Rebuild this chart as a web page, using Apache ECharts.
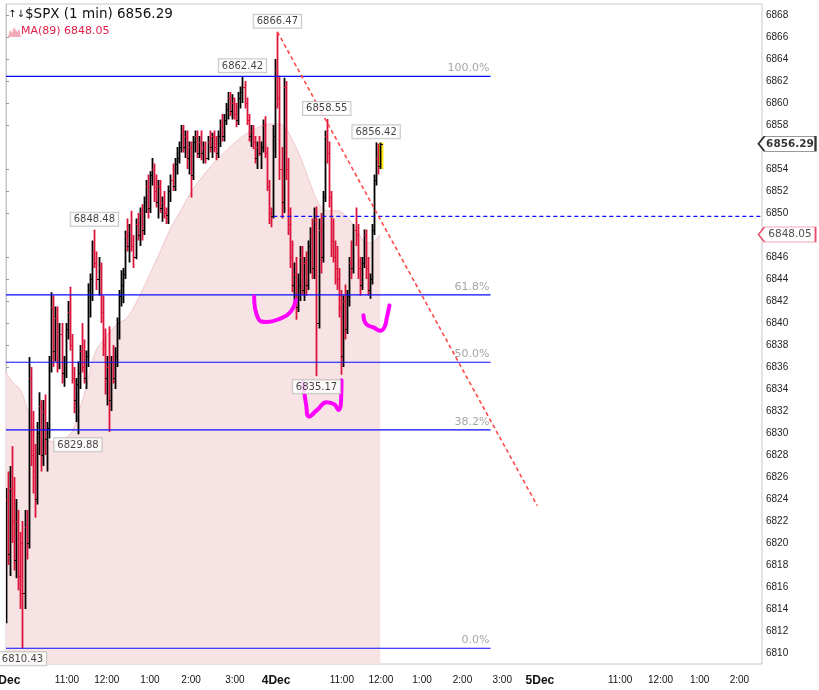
<!DOCTYPE html>
<html><head><meta charset="utf-8">
<script src="https://cdn.jsdelivr.net/npm/echarts@6.0.0/dist/echarts.min.js"></script>
<style>html,body{margin:0;padding:0;background:#fff}#c{width:819px;height:690px}</style>
</head><body><div id="c"></div><script>
// ---- x axis (minute slots of trading time) ----
const tickSlots  = [0, 89, 147, 210, 270, 334, 394, 490, 547, 607, 666, 724, 779, 896, 955, 1012, 1070];
const tickLabels = ['3Dec','11:00','12:00','1:00','2:00','3:00','4Dec','11:00','12:00','1:00','2:00','3:00','5Dec','11:00','12:00','1:00','2:00'];
const slotMax = 1103;
const barStep = 3;
// ---- y axis ticks ----
const priceTicks = [6810,6812,6814,6816,6818,6820,6822,6824,6826,6828,6830,6832,6834,6836,6838,6840,6842,6844,6846,6850,6852,6854,6858,6860,6862,6864,6866,6868];

// ---- $SPX 1-min (sampled) OHLC ----
const opens = [
6813,6824,6819,6825,6822,6818.5,6822,6817,6820,6815.5,
6821.5,6820,6835,6828,6826,6824,6830,6832.5,6828,6832,
6829.5,6830.5,6836.5,6841.5,6837.5,6840.5,6836.5,6839,6835.5,6836.5,
6839.5,6841,6838,6835,6833,6834.5,6835.5,6837.5,6836,6835,
6837,6843,6844,6846.5,6845.5,6844,6845,6841,6838,6835,
6836,6833,6836.5,6835,6837,6840,6842.5,6843.5,6844.5,6848,
6847,6848.5,6847,6846,6849,6848,6850,6848.5,6851,6852.5,
6850.5,6853.5,6854,6852,6851,6852.5,6850.5,6851,6850,6849.8,
6852,6853,6852.5,6854.5,6855,6856,6857.5,6856,6857,6855,
6856,6853.5,6856.5,6857,6855.5,6856.5,6855.5,6856,6855,6856.5,
6856,6857,6856,6855.5,6857,6858,6857,6858.5,6859.5,6860.5,
6859.3,6860,6859,6858.5,6860.5,6861,6861.5,6860,6858.5,6857,
6857.5,6856.5,6855,6856,6855.5,6856,6858,6855.5,6852.5,6850,
6849.7,6857,6863,6860.5,6854,6851,6861.5,6854,6849,6846,
6843.5,6844.5,6841.5,6843.5,6846,6843,6845.5,6843.5,6847,6848,
6845,6849.5,6840,6848.5,6846,6851.5,6857,6855.5,6851.5,6847.5,
6846,6845,6844,6841.5,6837,6842,6839.5,6842.5,6845.5,6845,
6848.5,6848,6845,6843.5,6845.5,6848,6845,6843,6844,6848.5,
6853,6855,6854.3];
const highs = [
6825,6826.5,6827,6828.8,6826,6824,6823,6821,6822,6823,
6823,6836.9,6836,6832,6829,6831,6833.7,6833,6833,6833.5,
6831,6837,6842.8,6842.5,6841.5,6841.5,6840,6840,6837,6840,
6842,6843.3,6839,6836,6835,6836.5,6838,6840,6838.5,6837.5,
6843.6,6844.5,6847.5,6848.48,6846.5,6846,6845.5,6842.5,6839.5,6837,
6839.7,6837,6838,6837.8,6840.5,6843,6844.8,6845,6848.4,6849.5,
6849,6850.2,6848,6849.5,6850,6850.5,6850.8,6851.5,6853,6853.5,
6853.8,6855,6854.5,6853.5,6853,6853,6851.5,6852,6850.5,6852.5,
6853.5,6854.5,6855,6856,6856.5,6858,6858,6857.5,6857.5,6856.5,
6856.5,6857,6857.5,6857.5,6857,6857.5,6856.5,6856.5,6857,6857.5,
6857.3,6857.5,6857,6857.5,6858.5,6859,6859,6860,6861,6861,
6860.8,6860.5,6860,6861,6861.5,6862.42,6862,6860.5,6859,6858,
6858,6857,6856.5,6857,6856.5,6858.5,6858.8,6856,6853,6850.5,
6858,6864,6866.47,6862.5,6856,6862.3,6862,6855,6850.5,6847.5,
6845.5,6846,6844.5,6847,6847,6846,6846.5,6847.5,6848.7,6849.5,
6850.5,6850.6,6849.5,6850,6852,6857.5,6858.55,6856.5,6852,6849.5,
6847.5,6847,6845,6843,6842.5,6843.5,6843,6846,6847.5,6849,
6850.5,6849,6846,6846,6848.5,6848.5,6846,6844.5,6849,6853.5,
6856.42,6856.3,6856.4];
const lows = [
6812.7,6818,6817,6820,6817.5,6816.8,6815.7,6814,6810.43,6814,
6818.5,6819.5,6827,6824.5,6822.3,6823.5,6828,6826.5,6827,6828,
6826.5,6829.5,6835.5,6836,6836.5,6835.5,6835.8,6834.5,6834.2,6835,
6838.5,6837.5,6834.5,6831.8,6831,6829.88,6834,6835.5,6834.5,6834,
6836,6840.5,6842,6845,6843,6842.5,6840,6837,6833.5,6832.5,
6830.1,6832,6834.5,6834,6836,6838.5,6841.5,6841.8,6844,6846.5,
6845.5,6846.5,6845,6845.8,6847.5,6847,6847.5,6848,6850,6849.5,
6850,6852.5,6851,6850.5,6849.5,6850,6849.2,6849.5,6849,6849,
6851,6852,6852,6853.5,6854.5,6855.5,6855.5,6855,6854,6853.5,
6851.4,6853,6855.5,6855,6855,6854.8,6854.5,6854.5,6854.8,6855.5,
6855,6855.5,6854.8,6855,6856,6856.5,6856.5,6858,6858.5,6858.8,
6858.5,6858.5,6857.8,6858,6859.5,6860,6859.5,6858,6856.5,6856,
6855.8,6854.5,6854,6855.2,6854,6855.5,6855,6852,6849,6848.7,
6849.5,6855,6859.5,6853,6849.5,6850,6853,6848,6845,6842.8,
6841.5,6840.3,6841,6842,6842.5,6842,6842.5,6843,6844.5,6844,
6844,6835.17,6839.5,6844.5,6845.5,6851,6854.5,6850.5,6846,6845.5,
6843.5,6843,6840.5,6835.3,6836,6838.5,6839,6841.5,6844,6844.5,
6847,6844,6842.5,6843,6845,6844,6842.5,6842.2,6843.5,6848,
6852.5,6853.5,6854];
const closes = [
6824,6819,6825,6822,6818.5,6822,6817,6815.5,6815.5,6821.5,
6820,6835,6828,6826,6824,6830,6832.5,6828,6832,6829.5,
6830.5,6836.5,6841.5,6837.5,6840.5,6836.5,6839,6835.5,6836.5,6839.5,
6841,6838,6835,6833,6834.5,6835.5,6837.5,6836,6835,6837,
6843,6844,6846.5,6845.5,6844,6845,6841,6838,6835,6836,
6833,6836.5,6835,6837,6840,6842.5,6843.5,6844.5,6848,6847,
6848.5,6847,6846,6849,6848,6850,6848.5,6851,6852.5,6850.5,
6853.5,6854,6852,6851,6852.5,6850.5,6851,6850,6849.8,6852,
6853,6852.5,6854.5,6855,6856,6857.5,6856,6857,6855,6856,
6853.5,6856.5,6857,6855.5,6856.5,6855.5,6856,6855,6856.5,6856,
6857,6856,6855.5,6857,6858,6857,6858.5,6859.5,6860.5,6859.3,
6860,6859,6858.5,6860.5,6861,6861.5,6860,6858.5,6857,6857.5,
6856.5,6855,6856,6855.5,6856,6858,6855.5,6852.5,6850,6849.7,
6857,6863,6860.5,6854,6851,6861.5,6854,6849,6846,6843.5,
6844.5,6841.5,6843.5,6846,6843,6845.5,6843.5,6847,6848,6845,
6849.5,6840,6848.5,6846,6851.5,6857,6855.5,6851.5,6847.5,6846,
6845,6844,6841.5,6837,6842,6839.5,6842.5,6845.5,6845,6848.5,
6848,6845,6843.5,6845.5,6848,6845,6843,6844,6848.5,6853,
6855,6854.5,6856.29];

// ---- MA(89) ----
const maSlots  = [0,10,20,28,35,42,57,72,86,97,108,118,130,145,162,177,196,211,225,240,255,269,284,301,320,338,353,369,383,398,408,418,430,445,456,470,484,499,511,521,532,546];
const maValues = [6835.5,6834.6,6834.0,6832.8,6831.3,6830.4,6829.5,6829.2,6829.5,6830.2,6832.2,6834.4,6837.3,6838.7,6839.9,6840.5,6842.6,6844.6,6846.5,6848.6,6850.2,6851.8,6853.1,6854.4,6855.6,6856.6,6857.3,6857.8,6858.1,6858.1,6857.7,6856.6,6855.0,6852.5,6850.9,6850.2,6850.2,6849.5,6848.6,6847.5,6847.3,6848.05];

// ---- Fibonacci retracement ----
const fibValues = [6862.42, 6842.56, 6836.43, 6830.29, 6810.43];
const fibLabels = ['100.0%', '61.8%', '50.0%', '38.2%', '0.0%'];
const fibEndSlot = 707;
// ---- previous close, trend line ----
const prevClose = 6849.7, prevCloseStart = 390;
const trendLine = [[396, 6866.47], [775, 6823.4]];
// ---- hand-drawn annotations (slot, price) ----
const scribbleA = [[362,6842.4],[368,6840.4],[380,6840.1],[400,6840.4],[415,6841.0],[423,6842.1]];
const scribbleB = [[433.5,6834.6],[438,6832.5],[442,6831.5],[454,6832.1],[468,6832.8],[479,6832.6],[485,6832.1],[489,6833.2],[489.5,6834.8]];
const scribbleC = [[521.5,6840.7],[525.5,6839.9],[536,6839.6],[546,6839.3],[552,6839.6],[555.7,6840.5],[559.5,6841.6]];
// ---- price tags ----
const tagSlots  = [396, 345, 468, 540, 129, 453, 105, 24];
const tagPrices = [6866.47, 6862.42, 6858.55, 6856.42, 6848.48, 6835.17, 6829.88, 6810.43];
const tagSides  = ['top','top','top','top','top','bottom','bottom','bottom'];

const RED = '#dc143c', BLUE = '#0a0aff';
const barSlots = opens.map((_, i) => i * barStep);
const bars = barSlots.map((s, i) => [s, opens[i], highs[i], lows[i], closes[i]]);
const lastIdx = bars.length - 1;
const lastClose = closes[lastIdx], lastMA = maValues[maValues.length - 1];

function renderBar(params, api) {
  const x = api.value(0), o = api.value(1), h = api.value(2), l = api.value(3), c = api.value(4);
  const pH = api.coord([x, h]), pL = api.coord([x, l]), pO = api.coord([x, o]), pC = api.coord([x, c]);
  const px = Math.round(pH[0]) + 0.5;
  const col = c >= o ? '#000' : RED;
  const ch = [];
  if (params.dataIndex === lastIdx) {
    ch.push({type:'rect', shape:{x: px - 1.5, y: pH[1], width: 4.5, height: pL[1] - pH[1]}, style:{fill:'#ffe81a'}});
  }
  ch.push({type:'line', shape:{x1:px, y1:pH[1], x2:px, y2:pL[1]}, style:{stroke:col, lineWidth:1.8}});
  ch.push({type:'line', shape:{x1:px - 2.5, y1:Math.round(pO[1]) + 0.5, x2:px, y2:Math.round(pO[1]) + 0.5}, style:{stroke:col, lineWidth:1}});
  ch.push({type:'line', shape:{x1:px, y1:Math.round(pC[1]) + 0.5, x2:px + 2.5, y2:Math.round(pC[1]) + 0.5}, style:{stroke:col, lineWidth:1}});
  return {type:'group', children: ch};
}

const chart = echarts.init(document.getElementById('c'), null, {renderer:'canvas'});
const scribble = (d) => ({
  type:'line', data:d, showSymbol:false, smooth:0.5, z:6, silent:true,
  lineStyle:{color:'#ff00ff', width:4, cap:'round', join:'round'}
});
const fibSeries = fibValues.map((v) => ({
  type:'line', data:[[0, v], [fibEndSlot, v]], showSymbol:false, z:3, silent:true,
  color: BLUE, lineStyle:{color:BLUE, width:1.2, type:'solid'}
}));
chart.setOption({
  animation:false,
  backgroundColor:'#fff',
  color:[BLUE],
  grid:{left:6, right:57, top:4, bottom:26, containLabel:false, outerBoundsMode:'none',
    show:true, borderColor:'#c8c8c8', borderWidth:1, backgroundColor:'transparent'},
  xAxis:{
    type:'value', min:0, max:slotMax,
    splitLine:{show:false}, axisLine:{show:false}, axisTick:{show:false},
    axisLabel:{
      customValues: tickSlots, margin:11, color:'#111', fontSize:10, fontFamily:'Liberation Sans',
      formatter:(v) => { const t = tickLabels[tickSlots.indexOf(v)] || ''; return /Dec/.test(t) ? '{d|' + t + '}' : t; },
      rich:{d:{fontWeight:'bold', fontSize:12, fontFamily:'Liberation Sans Narrow, Liberation Sans', color:'#111'}}
    }
  },
  yAxis:{
    type:'value', position:'right', min:6809, max:6869, scale:true,
    splitLine:{show:false},
    axisLine:{show:true, lineStyle:{color:'#c4c4c4'}},
    axisTick:{show:true, length:3, customValues: priceTicks, lineStyle:{color:'#999'}},
    axisLabel:{customValues: priceTicks, margin:4, color:'#222', fontSize:10, fontFamily:'Liberation Sans',
      formatter:(v) => String(v)}
  },
  graphic:[
    {type:'text', left:8, top:9, style:{text:'↑↓', font:'10px DejaVu Sans', fill:'#111'}},
    {type:'text', left:25, top:7, style:{text:'$SPX (1 min) ' + lastClose.toFixed(2), font:'13.5px DejaVu Sans', fill:'#111'}},
    {type:'polygon', shape:{points:[[8,37],[10,30],[12,33],[14,27],[17,32],[19,29],[21,37]]}, style:{fill:'#f2aab8'}},
    {type:'text', left:21, top:26, style:{text:'MA(89) ' + lastMA.toFixed(2), font:'11px DejaVu Sans', fill:'#e0204a'}}
  ],
  series:[
    { name:'MA(89)', type:'line', data: maSlots.map((s, i) => [s, maValues[i]]), showSymbol:false, smooth:0.4, z:1, silent:true,
      lineStyle:{color:'#efc6cb', width:1}, areaStyle:{color:'#f7e3e3', opacity:1, origin:'start'} },
    { name:'SPX', type:'custom', renderItem: renderBar, data: bars, encode:{x:0, y:[1,2,3,4]}, z:2, clip:true },
    ...fibSeries,
    { name:'fibTags', type:'scatter', symbolSize:0.1, itemStyle:{color:'rgba(0,0,0,0)'}, z:7, silent:true, clip:false,
      data: fibValues.map((v, i) => ({value:[fibEndSlot, v], name: fibLabels[i]})),
      label:{show:true, position:'left', offset:[1,-8], distance:2, formatter:(p) => p.name, color:'#8e8e8e', fontSize:11, fontFamily:'DejaVu Sans'} },
    { name:'prevClose', type:'line', data:[[prevCloseStart, prevClose],[slotMax, prevClose]], showSymbol:false, z:3, silent:true,
      lineStyle:{color:BLUE, width:1.2, type:[4,3]} },
    { name:'trend', type:'line', data: trendLine, showSymbol:false, z:4, silent:true,
      lineStyle:{color:'#ff4a4a', width:1.6, type:[4,3]} },
    scribble(scribbleA), scribble(scribbleB), scribble(scribbleC),
    { name:'tags', type:'scatter', symbolSize:0.1, itemStyle:{color:'rgba(0,0,0,0)'}, z:8, silent:true, clip:false,
      data: tagSlots.map((s, i) => ({value:[s, tagPrices[i]], label:{position: tagSides[i]}})),
      label:{show:true, distance:4, formatter:(p) => p.value[1].toFixed(2), color:'#111', fontSize:10, fontFamily:'DejaVu Sans',
        backgroundColor:'#fff', borderColor:'#b8b8b8', borderWidth:1, padding:[2,3,1,3]} },
    { name:'axisTags', type:'scatter', z:9, silent:true, clip:false,
      symbol:'path://M0,7.5L6,0L57,0L57,15L6,15Z', symbolSize:[57,15], symbolOffset:[25,0], symbolKeepAspect:false,
      data:[
        {value:[slotMax, lastClose], itemStyle:{color:'#fff', borderColor:'#000', borderWidth:1.2},
          label:{show:true, position:'inside', offset:[3,0], formatter: lastClose.toFixed(2), fontWeight:'bold', fontSize:10.5, fontFamily:'DejaVu Sans', color:'#000'}},
        {value:[slotMax, lastMA], itemStyle:{color:'#fff', borderColor:'#e0204a', borderWidth:1},
          label:{show:true, position:'inside', offset:[3,0], formatter: lastMA.toFixed(2), fontSize:10.5, fontFamily:'DejaVu Sans', color:'#222'}}
      ] }
  ]
});
</script></body></html>
